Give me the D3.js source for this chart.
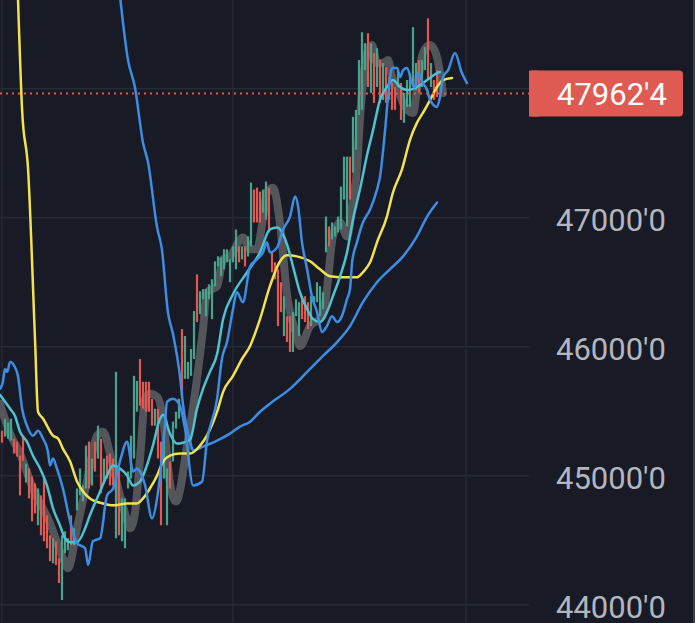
<!DOCTYPE html>
<html lang="en">
	<head>
		<meta charset="UTF-8">
		<title>Price chart</title>
		<script src="https://d3js.org/d3.v7.min.js"></script>
		<style>
			html, body { margin: 0; padding: 0; background: #181b26; overflow: hidden; }
			text { font-family: Roboto, 'Liberation Sans', sans-serif; }
		</style>
	</head>
	<body>
		<div id="chart"></div>
		<script>
			// candles, one per bar index
			const candleOpen = [45349,45303,45287,45272,45287,45264,45156,45310,44948,45056,
				44994,44940,44616,44847,44978,44693,44538,44322,44492,44361,
				44036,44399,44422,44693,44461,44731,44847,44801,44901,45264,
				44924,45264,45133,45287,44955,45156,45172,45133,44515,45056,
				44492,44438,44901,44978,45133,45496,45905,45728,45728,45728,
				45596,45388,45519,45264,44978,44616,45110,45110,45365,45442,
				46137,45751,45751,45774,45905,46561,46253,46368,46237,46368,
				46214,46469,46623,46546,46600,46654,46500,46654,46600,46778,
				46677,46778,46700,46778,47218,47233,47202,47040,46986,47233,
				46731,46654,46600,46500,46083,46237,46237,45959,46237,46083,
				46392,46392,46345,46160,46345,46345,46237,46291,46731,46932,
				46832,46855,46886,46909,47141,46932,47473,47349,47527,47797,
				47836,48144,48430,47967,48276,48013,48222,47913,48168,47913,
				48044,48013,48013,48044,47735,47859,47859,48013,47990,48222,
				48013,48144,48546,48013,48067,48144];
			const candleClose = [45256,45442,45411,45442,45172,45148,44847,45117,45094,44824,
				44646,44708,44901,44538,44492,44438,44338,44515,44307,44168,
				44538,44569,44515,44461,44592,44901,45056,44924,45233,44901,
				45133,45032,45388,44863,45133,44978,44924,44924,45805,44538,
				44824,44824,45032,45310,45774,45735,45542,45519,45496,45496,
				45388,45519,45133,44616,45326,45056,44901,45419,45496,45596,
				45619,46083,45882,45982,46276,46191,46430,46446,46446,46484,
				46523,46662,46700,46693,46755,46755,46677,46778,46909,46654,
				46778,46623,46855,47272,46963,46963,46963,47218,47280,46886,
				46577,46523,46160,46268,46392,46036,45959,46268,46368,46345,
				46214,46191,46137,46392,46392,46500,46469,46422,47009,46778,
				46963,46932,47009,47241,47473,47473,47141,47782,47836,48222,
				48438,48353,48013,48353,47890,48314,47890,48199,47890,48090,
				47836,47836,48144,47758,47967,48067,48121,48477,48199,47967,
				48222,48322,48067,48199,47913,47936];

			// moving averages: bar index + value
			const bandIdx = [-0.7,2.7,6,10.3,16,20.3,22,25,28.3,31.7,33.7,36,38.3,41,42.7,44.3,46,47.7,49.3,51.7,53.7,56,58,61.7,65,67,68.3,71.7,73.7,76,80.3,82.7,85,86.7,88.3,90.3,92.7,95,98.3,99.3,102.7,107,108.3,110.3,112.7,115,117,118.3,119.3,121.7,123.3,125,127,128.7,130,131.7,133.7,137,138.7,140.3,142.7,145,146.7,147];
			const bandVal = [45558,45326,45172,44901,44631,44361,44283,44592,44955,45310,45341,45172,44940,44708,44592,44708,45133,45596,45635,45612,45442,44940,44801,45233,45751,46137,46422,46469,46677,46700,46847,46755,46755,46948,47195,47233,46948,46407,46083,46006,46160,46237,46446,46855,46963,46855,47141,47372,47758,48276,48338,48199,48199,48222,48090,48013,47890,47812,48067,48276,48338,48245,48013,47967];

			const yellowIdx = [5.3,6.7,8.7,11,12,13.7,17,18.7,20.3,22.7,25,27,29.3,33.7,37,41.7,45,47,49.3,51.7,53.7,56,59.3,62.7,66,68.3,71.7,73.7,77,80,82.7,86,89.3,92.7,95,98.3,102.7,106,109.3,113.7,118.3,120.3,122.7,125,128.3,130.3,133.3,136,138.3,140.3,142.7,145,147,150];
			const yellowVal = [48720,47836,47372,46060,45496,45442,45310,45287,45210,45110,44955,44878,44824,44785,44770,44785,44785,44824,44901,45002,45110,45156,45172,45172,45233,45310,45496,45650,45774,45905,46006,46214,46469,46662,46708,46700,46662,46600,46546,46538,46538,46577,46654,46809,47009,47195,47372,47604,47735,47812,47913,48013,48067,48083];

			const cyanIdx = [-0.7,2.7,4.3,6,8.3,10.3,12.7,15,17,19.3,21,22.7,25,27.7,29.3,32.7,35,37,39.3,41.7,43.7,46,48.3,50.3,52.7,53.7,56,58.3,60.3,62.7,65,67,69.3,71.7,73.7,77,81.7,86,89.3,91.7,95,97,99.3,101.7,103.7,106,108.3,110.3,112.7,115,117,119.3,121.7,123.7,126,128.3,130.3,132.7,135,138.3,141.7,145,146];
			const cyanVal = [45627,45519,45465,45341,45264,45156,45056,44924,44747,44616,44515,44484,44484,44592,44693,44878,45002,45079,45056,45002,44924,44955,45079,45233,45442,45473,45326,45249,45256,45280,45519,45673,45805,45944,46214,46407,46577,46731,46909,46924,46793,46623,46422,46291,46214,46191,46268,46392,46546,46731,46986,47218,47488,47681,47913,48013,48067,48013,47990,48013,48067,48121,48129];

			const fastIdx = [-0.7,0.3,1,1.7,2.7,4.3,5.3,6.7,8.3,10.3,12,13.7,15.3,16,17,18.3,20.3,22.7,25,27.7,28.7,30.3,32.7,35,37,39.3,41.7,43.7,45,46,47.7,50,51.7,52.7,54.3,55,57,59.3,61,63.7,66.7,68.3,71.7,73.3,75,77,78.3,80.3,82.7,85,87,88.3,89.3,91.7,93.7,96,97.7,98.7,100,101.7,103.3,105,106.7,108.3,110,111.7,113.3,115,116,116.7,118.3,120.3,122.7,125,126,127.7,128.7,130,131.7,132.7,133.7,135,136.7,137.7,138.7,140.3,141.7,142.7,145,146,147,148.7,151,153.3,155];
			const fastVal = [45673,45727,45828,45805,45882,45843,45774,45519,45388,45310,45349,45287,45187,45079,45133,45056,44901,44646,44477,44438,44307,44492,44515,44847,44901,45110,45264,45032,45056,45032,44924,44670,44824,45002,45388,45573,45596,45542,45365,44924,44955,45264,45596,45905,46036,46291,46422,46345,46623,46677,46731,46809,46731,46770,46909,47009,47164,47087,46809,46600,46392,46268,46114,46160,46237,46191,46237,46368,46446,46654,46809,46963,47063,47218,47318,47681,47936,48160,48160,48090,48144,48160,48044,48013,48121,48044,47990,47913,47859,47936,48090,48144,48276,48121,48044];

			const slowIdx = [39.3,42,44.3,47,48.7,51.7,53.3,55.3,57,59.3,60.3,62.7,63.7,67,71.7,76,79.3,82.7,86,89.3,96,102.7,107,111.7,116,120.3,125,129.3,133.7,138.3,141.7,145];
			const slowVal = [48724,48222,48013,47581,47426,46924,46755,46268,46098,45774,45558,45264,45195,45226,45272,45326,45380,45419,45496,45558,45673,45828,45928,46036,46160,46345,46500,46600,46700,46855,47009,47118];

			const priceTicks = [44000, 45000, 46000, 47000, 48000];
			const timeTicks = [0, 77, 154.7];
			const lastPrice = 47962.4;

			var width = 695;
			var height = 623;
			var plotRight = 529;

			var x = d3.scaleLinear().domain([0, 100]).range([2, 302]);
			var y = d3.scaleLinear().domain([44000, 48000]).range([604.7, 88.7]);
			var fmt = function (d) { return d3.format(".1f")(d).replace(".", "'"); };
			var ly = y(lastPrice);

			var svg = d3.select("#chart")
				.append("svg")
				.attr("width", width)
				.attr("height", height)
				.attr("style", "background: #181b26; display: block;");

			svg.append("defs").append("clipPath").attr("id", "plot")
				.append("rect").attr("x", 0).attr("y", 0).attr("width", plotRight).attr("height", height);

			// grid
			svg.append("g").selectAll("line")
				.data(priceTicks)
				.enter().append("line")
				.attr("x1", 0).attr("x2", plotRight)
				.attr("y1", function (d) { return y(d); })
				.attr("y2", function (d) { return y(d); })
				.attr("stroke", "#262a35").attr("stroke-width", 1.5);
			svg.append("g").selectAll("line")
				.data(timeTicks)
				.enter().append("line")
				.attr("x1", function (d) { return x(d); })
				.attr("x2", function (d) { return x(d); })
				.attr("y1", 0).attr("y2", height)
				.attr("stroke", "#262a35").attr("stroke-width", 1.5);

			var plot = svg.append("g").attr("clip-path", "url(#plot)");

			function drawLine(idx, vals, color, w, op) {
				var pts = idx.map(function (d, i) { return [d, vals[i]]; });
				var line = d3.line()
					.x(function (d) { return x(d[0]); })
					.y(function (d) { return y(d[1]); })
					.curve(d3.curveMonotoneX);
				plot.append("path")
					.datum(pts)
					.attr("d", line)
					.attr("fill", "none")
					.attr("stroke", color)
					.attr("stroke-width", w)
					.attr("stroke-opacity", op)
					.attr("stroke-linecap", "round")
					.attr("stroke-linejoin", "round");
			}

			// thick grey average under the candles
			drawLine(bandIdx, bandVal, "#6c6d72", 8, 0.7);

			plot.append("g").selectAll("rect")
				.data(candleOpen)
				.enter().append("rect")
				.attr("x", function (d, i) { return x(i) - 1.1; })
				.attr("width", 2.2)
				.attr("y", function (d, i) { return y(Math.max(d, candleClose[i])); })
				.attr("height", function (d, i) { return Math.max(1, Math.abs(y(d) - y(candleClose[i]))); })
				.attr("fill", function (d, i) { return candleClose[i] >= d ? "#48a38c" : "#e2574e"; });

			drawLine(slowIdx, slowVal, "#3d8de3", 2.5, 1);
			drawLine(yellowIdx, yellowVal, "#f3e150", 2.5, 1);
			drawLine(cyanIdx, cyanVal, "#4fc2d2", 2.5, 1);
			drawLine(fastIdx, fastVal, "#3d8de3", 2.5, 1);

			// last price dotted line
			svg.append("line")
				.attr("x1", 0).attr("x2", plotRight)
				.attr("y1", ly).attr("y2", ly)
				.attr("stroke", "#e2574e").attr("stroke-width", 2)
				.attr("stroke-dasharray", "2,4");

			// price axis labels (the one under the price tag is hidden)
			svg.append("g").selectAll("text")
				.data(priceTicks.filter(function (d) { return Math.abs(y(d) - ly) > 30; }))
				.enter().append("text")
				.attr("x", 556)
				.attr("y", function (d) { return y(d) + 2; })
				.attr("dy", "0.35em")
				.attr("fill", "#b4b6be")
				.attr("font-size", 31)
				.text(fmt);

			// last price tag
			svg.append("rect")
				.attr("x", 529).attr("y", ly - 23).attr("width", 154).attr("height", 46)
				.attr("rx", 4).attr("fill", "#df5a52");
			svg.append("rect")
				.attr("x", 529).attr("y", ly - 23).attr("width", 10).attr("height", 46)
				.attr("fill", "#df5a52");
			svg.append("text")
				.attr("x", 557).attr("y", ly)
				.attr("dy", "0.36em")
				.attr("fill", "#ffffff")
				.attr("font-size", 31)
				.text(fmt(lastPrice));

			// right edge
			svg.append("line")
				.attr("x1", 694).attr("x2", 694).attr("y1", 0).attr("y2", height)
				.attr("stroke", "#3c404a").attr("stroke-width", 2);
		</script>
	</body>
</html>
